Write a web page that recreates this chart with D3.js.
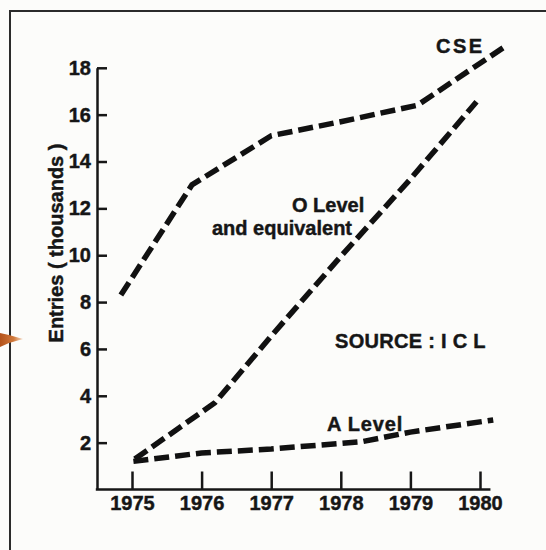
<!DOCTYPE html>
<html>
<head>
<meta charset="utf-8">
<script src="https://cdn.jsdelivr.net/npm/d3@7"></script>
<style>
  html, body { margin: 0; padding: 0; background: #fcfcfa; }
  svg { display: block; }
  text { font-family: "Liberation Sans", Arial, Helvetica, sans-serif; font-weight: bold; fill: #161616; stroke: #161616; stroke-width: 0.45px; }
</style>
</head>
<body>
<script>
// Examination entries, 1975-1980 (thousands)
const years = [1975, 1976, 1977, 1978, 1979, 1980];
const yTicks = [2, 4, 6, 8, 10, 12, 14, 16, 18];

const cseYears   = [1974.84, 1975.86, 1977, 1978, 1979.1, 1980.33];
const cseValues  = [8.3, 13.0, 15.1, 15.7, 16.4, 18.85];

const oLevelYears  = [1975.04, 1976.19, 1977, 1978, 1979, 1979.95];
const oLevelValues = [1.3, 3.7, 6.55, 9.95, 13.25, 16.55];

const aLevelYears  = [1975.02, 1976, 1977, 1978.3, 1979, 1980.19];
const aLevelValues = [1.2, 1.56, 1.73, 2.04, 2.45, 2.97];

const W = 546, H = 550;
const AXIS_X = 97;          // vertical axis position
const INK = "#161616";

const svg = d3.select("body").append("svg")
  .attr("width", W).attr("height", H);

svg.append("rect").attr("width", W).attr("height", H).attr("fill", "#fcfcfa");

// panel frame (top and left edges)
svg.append("path")
  .attr("d", `M10,${H} L10,11 L${W},11`)
  .attr("fill", "none").attr("stroke", "#2b2b2b").attr("stroke-width", 2);

// small orange pointer on the frame edge
const defs = svg.append("defs");
const grad = defs.append("linearGradient").attr("id", "pointer")
  .attr("x1", "0%").attr("x2", "100%");
grad.append("stop").attr("offset", "0%").attr("stop-color", "#b4521a");
grad.append("stop").attr("offset", "60%").attr("stop-color", "#d0783a");
grad.append("stop").attr("offset", "100%").attr("stop-color", "#e9b48a").attr("stop-opacity", 0.6);
svg.append("path")
  .attr("d", "M0,333 L9,335 L23,339 L9,343 L0,347 Z")
  .attr("fill", "url(#pointer)");

const x = d3.scaleLinear().domain([1975, 1980]).range([132, 480]);
const y = d3.scaleLinear().domain([0, 18]).range([489.5, 67.8]);

const styleTickText = sel => sel.attr("font-size", 20).attr("fill", INK)
  .style("font-family", "'Liberation Sans', Arial, sans-serif")
  .style("font-weight", "bold")
  .style("stroke", INK).style("stroke-width", "0.45px");

// y axis: ticks point into the plot
const yAxis = svg.append("g")
  .attr("transform", `translate(${AXIS_X},0)`)
  .call(d3.axisLeft(y).tickValues(yTicks).tickSizeInner(-10).tickSizeOuter(0).tickPadding(6));
yAxis.select(".domain").attr("stroke", INK).attr("stroke-width", 2.5);
yAxis.selectAll(".tick line").attr("stroke", INK).attr("stroke-width", 2.5);
yAxis.selectAll(".tick text").call(styleTickText);

// x axis: ticks point upward
const xAxis = svg.append("g")
  .attr("transform", `translate(0,${y(0)})`)
  .call(d3.axisBottom(x).tickValues(years).tickFormat(d3.format("d"))
    .tickSizeInner(-18).tickSizeOuter(0).tickPadding(6));
xAxis.select(".domain").remove();
xAxis.append("line")
  .attr("x1", AXIS_X - 1.2).attr("x2", x(1980.15))
  .attr("stroke", INK).attr("stroke-width", 2.5);
xAxis.selectAll(".tick line").attr("stroke", INK).attr("stroke-width", 2.5);
xAxis.selectAll(".tick text").call(styleTickText);

// axis title
svg.append("text")
  .attr("transform", `translate(63,243) rotate(-90)`)
  .attr("text-anchor", "middle")
  .attr("font-size", 20)
  .text("Entries ( thousands )");

// dashed series lines
const series = [
  { xs: cseYears, vs: cseValues },
  { xs: oLevelYears, vs: oLevelValues },
  { xs: aLevelYears, vs: aLevelValues }
];
const line = d3.line()
  .x(d => x(d[0])).y(d => y(d[1]))
  .curve(d3.curveLinear);

svg.append("g").selectAll("path")
  .data(series)
  .join("path")
  .attr("d", s => line(d3.zip(s.xs, s.vs)))
  .attr("fill", "none")
  .attr("stroke", "#111")
  .attr("stroke-width", 5.5)
  .attr("stroke-dasharray", "15,6")
  .attr("stroke-linejoin", "round");

// series labels and source note
const labels = [
  { t: "CSE", x: 436, y: 53, ls: 2.5 },
  { t: "O Level", x: 292, y: 212, ls: 0 },
  { t: "and equivalent", x: 212, y: 235, ls: 0 },
  { t: "SOURCE : I C L", x: 335, y: 348, ls: 0.3 },
  { t: "A Level", x: 327, y: 431, ls: 0.8 }
];
svg.append("g").selectAll("text")
  .data(labels)
  .join("text")
  .attr("x", d => d.x).attr("y", d => d.y)
  .attr("font-size", 20)
  .attr("letter-spacing", d => d.ls)
  .text(d => d.t);
</script>
</body>
</html>
